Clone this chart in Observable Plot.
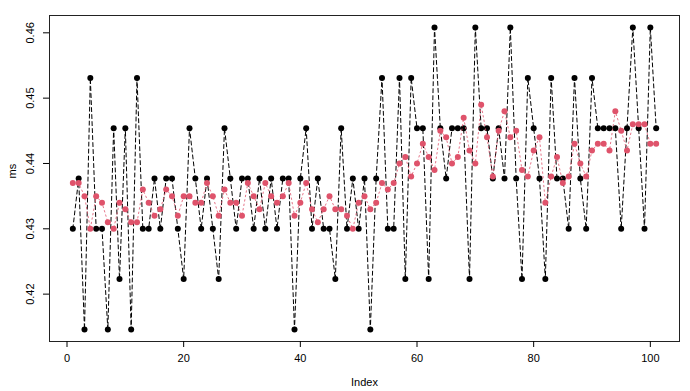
<!DOCTYPE html>
<html>
<head>
<meta charset="utf-8">
<script src="https://cdn.jsdelivr.net/npm/d3@7"></script>
<script src="https://cdn.jsdelivr.net/npm/@observablehq/plot@0.6"></script>
<style>
  html, body { margin: 0; padding: 0; background: #fff; }
  svg { display: block; }
</style>
</head>
<body>
<div id="chart"></div>
<script>
// Raw timings (black) — quantised levels
const black = [
  0.4300, 0.4377, 0.4146, 0.4531, 0.4300, 0.4300, 0.4146, 0.4454, 0.4223, 0.4454,
  0.4146, 0.4531, 0.4300, 0.4300, 0.4377, 0.4300, 0.4377, 0.4377, 0.4300, 0.4223,
  0.4454, 0.4377, 0.4300, 0.4377, 0.4300, 0.4223, 0.4454, 0.4377, 0.4300, 0.4377,
  0.4377, 0.4300, 0.4377, 0.4300, 0.4377, 0.4300, 0.4377, 0.4377, 0.4146, 0.4377,
  0.4454, 0.4300, 0.4377, 0.4300, 0.4300, 0.4223, 0.4454, 0.4300, 0.4377, 0.4300,
  0.4377, 0.4146, 0.4377, 0.4531, 0.4300, 0.4300, 0.4531, 0.4223, 0.4531, 0.4454,
  0.4454, 0.4223, 0.4608, 0.4454, 0.4377, 0.4454, 0.4454, 0.4454, 0.4223, 0.4608,
  0.4454, 0.4454, 0.4377, 0.4454, 0.4377, 0.4608, 0.4377, 0.4223, 0.4531, 0.4454,
  0.4377, 0.4223, 0.4531, 0.4377, 0.4377, 0.4300, 0.4531, 0.4377, 0.4300, 0.4531,
  0.4454, 0.4454, 0.4454, 0.4454, 0.4300, 0.4454, 0.4608, 0.4454, 0.4300, 0.4608,
  0.4454
];
// Smoothed timings (red)
const red = [
  0.437, 0.437, 0.435, 0.430, 0.435, 0.434, 0.431, 0.430, 0.434, 0.433,
  0.431, 0.431, 0.436, 0.434, 0.432, 0.433, 0.436, 0.435, 0.432, 0.435,
  0.435, 0.434, 0.434, 0.437, 0.435, 0.432, 0.436, 0.434, 0.434, 0.432,
  0.437, 0.435, 0.433, 0.437, 0.435, 0.434, 0.435, 0.437, 0.432, 0.434,
  0.437, 0.433, 0.431, 0.433, 0.435, 0.433, 0.433, 0.432, 0.430, 0.434,
  0.435, 0.433, 0.434, 0.437, 0.436, 0.437, 0.440, 0.441, 0.438, 0.440,
  0.443, 0.441, 0.439, 0.445, 0.444, 0.440, 0.441, 0.447, 0.442, 0.440,
  0.449, 0.444, 0.438, 0.445, 0.448, 0.444, 0.445, 0.439, 0.438, 0.442,
  0.444, 0.434, 0.438, 0.441, 0.437, 0.438, 0.443, 0.440, 0.438, 0.442,
  0.443, 0.443, 0.442, 0.448, 0.445, 0.442, 0.446, 0.446, 0.446, 0.443,
  0.443
];
const xTicks = [0, 20, 40, 60, 80, 100];
const yTicks = [0.42, 0.43, 0.44, 0.45, 0.46];

const blackData = black.map((v, i) => ({i: i + 1, v}));
const redData = red.map((v, i) => ({i: i + 1, v}));

const font = "Liberation Sans, Arial, Helvetica, sans-serif";

const chart = Plot.plot({
  width: 690,
  height: 391,
  marginLeft: 49,
  marginRight: 11,
  marginTop: 15,
  marginBottom: 50,
  style: {fontFamily: font, fontSize: "11px", color: "#000", background: "#fff"},
  x: {domain: [-3, 105]},
  y: {domain: [0.41275, 0.46265]},
  marks: [
    Plot.frame({stroke: "#222"}),
    Plot.axisX({ticks: xTicks, tickSize: 6, tickPadding: 7, tickFormat: d => String(d), fontSize: 11, label: null}),
    Plot.axisY({ticks: yTicks, tickSize: 6, tickFormat: () => "", label: null}),
    Plot.text(yTicks, {
      x: -3, y: d => d, text: d => d3.format(".2f")(d),
      rotate: -90, dx: -19, textAnchor: "middle", fontSize: 11, fill: "#000"
    }),
    Plot.text(["Index"], {frameAnchor: "bottom", dy: 44, text: d => d, fontSize: 11, fill: "#000"}),
    Plot.text(["ms"], {frameAnchor: "left", dx: -37, rotate: -90, text: d => d, fontSize: 11, fill: "#000"}),
    Plot.line(blackData, {x: "i", y: "v", stroke: "#000", strokeWidth: 1, strokeDasharray: "4 3"}),
    Plot.dot(blackData, {x: "i", y: "v", r: 3, fill: "#000", stroke: null}),
    Plot.line(redData, {x: "i", y: "v", stroke: "#DF536B", strokeWidth: 1, strokeDasharray: "1.5 3", strokeOpacity: 0.8}),
    Plot.dot(redData, {x: "i", y: "v", r: 3, fill: "#DF536B", stroke: null})
  ]
});
document.getElementById("chart").appendChild(chart);
</script>
</body>
</html>
